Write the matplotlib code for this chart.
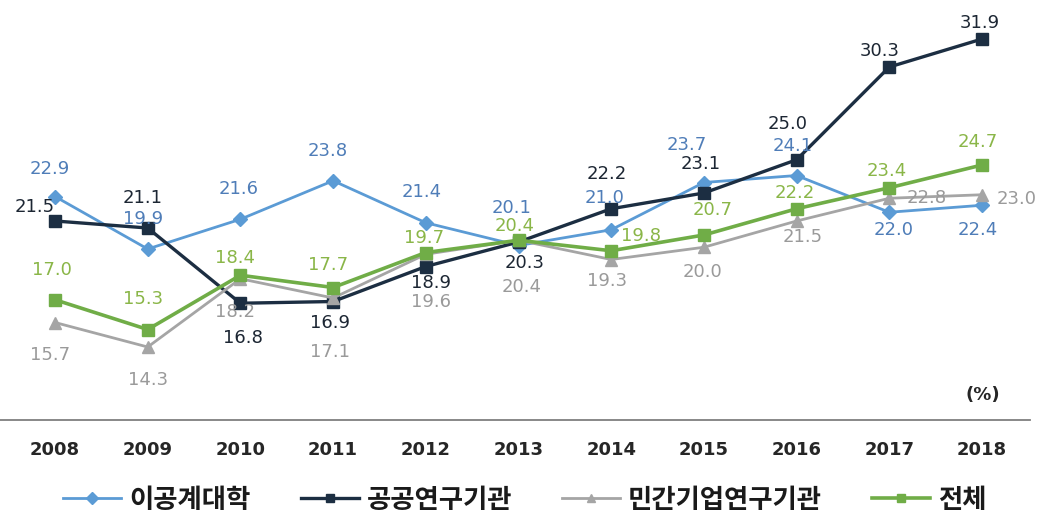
import matplotlib
matplotlib.use("Agg")
import matplotlib.pyplot as plt

years = ["2008", "2009", "2010", "2011", "2012", "2013", "2014", "2015", "2016", "2017", "2018"]
series_names = ["이공계대학", "공공연구기관", "민간기업연구기관", "전체"]
univ = [22.9, 19.9, 21.6, 23.8, 21.4, 20.1, 21.0, 23.7, 24.1, 22.0, 22.4]
public = [21.5, 21.1, 16.8, 16.9, 18.9, 20.3, 22.2, 23.1, 25.0, 30.3, 31.9]
private = [15.7, 14.3, 18.2, 17.1, 19.6, 20.4, 19.3, 20.0, 21.5, 22.8, 23.0]
total = [17.0, 15.3, 18.4, 17.7, 19.7, 20.4, 19.8, 20.7, 22.2, 23.4, 24.7]

# styles: (line color, label color, marker, marker size, line width)
styles = [
    ("#5B9BD5", "#4F7DB8", "D", 7, 2.0),
    ("#1C2E42", "#1C2633", "s", 9, 2.4),
    ("#A5A5A5", "#9A9A9A", "^", 9, 2.0),
    ("#70AD47", "#8AB648", "s", 8.5, 2.6),
]
# label offsets in pixels (dx, dy)
offsets = [
    [(-5, 27), (-5, 30), (-2, 30), (-5, 30), (-4, 31), (-7, 37), (-7, 32), (-17, 37), (-4, 29), (4, -18), (-4, -25)],
    [(-20, 14), (-5, 30), (3, -35), (-3, -22), (5, -17), (6, -21), (-4, 35), (-3, 29), (-9, 36), (-10, 16), (-2, 16)],
    [(-5, -33), (0, -33), (-5, -33), (-3, -54), (5, -48), (3, -47), (-4, -22), (-1, -25), (6, -16), (37, 0), (35, -4)],
    [(-3, 30), (-5, 30), (-5, 17), (-5, 22), (-2, 14), (-4, 14), (30, 15), (9, 25), (-2, 16), (-3, 17), (-4, 23)],
]

fig = plt.figure(figsize=(10.42, 5.22), dpi=100)
ax = fig.add_axes([0.0, 102 / 522, 1030 / 1042, 420 / 522])
x = list(range(len(years)))
data = [univ, public, private, total]
handles = []
for vals, (lc, tc, mk, ms, lw), offs, name in zip(data, styles, offsets, series_names):
    h, = ax.plot(x, vals, color=lc, marker=mk, markersize=ms, linewidth=lw,
                 markeredgecolor=lc, label=name, clip_on=False)
    handles.append(h)
    for xi, v, (dx, dy) in zip(x, vals, offs):
        ax.annotate(f"{v:.1f}", (xi, v), xytext=(dx, dy), textcoords="offset pixels",
                    ha="center", va="center", color=tc, fontsize=13,
                    family="DejaVu Sans", annotation_clip=False)

ax.set_xlim(-55 / 92.7, 10 + 48 / 92.7)
ax.set_ylim(31.9 - 381 / 17.5, 31.9 + 39 / 17.5)
for s in ["top", "left", "right"]:
    ax.spines[s].set_visible(False)
ax.spines["bottom"].set_color("#7F7F7F")
ax.spines["bottom"].set_linewidth(1.3)
ax.set_yticks([])
ax.set_xticks(x)
ax.set_xticklabels(years, fontsize=13, fontweight="bold", family="DejaVu Sans", color="#262626")
ax.tick_params(axis="x", length=0, pad=15)

fig.text(983 / 1042, 1 - 395 / 522, "(%)", ha="center", va="center", fontsize=13,
         fontweight="bold", family="DejaVu Sans", color="#262626")

leg = fig.legend(handles=handles, loc="center", bbox_to_anchor=(525 / 1042, 1 - 500 / 522),
                 ncol=4, frameon=False, handlelength=2.2, handletextpad=0.3, columnspacing=1.9,
                 prop={"family": ["Noto Sans CJK KR", "DejaVu Sans"], "size": 19, "weight": "bold"})
for t in leg.get_texts():
    t.set_color("#1a1a1a")
for lh in leg.legend_handles:
    lh.set_markersize(6)

fig.savefig("out.png", dpi=100, facecolor="white")
